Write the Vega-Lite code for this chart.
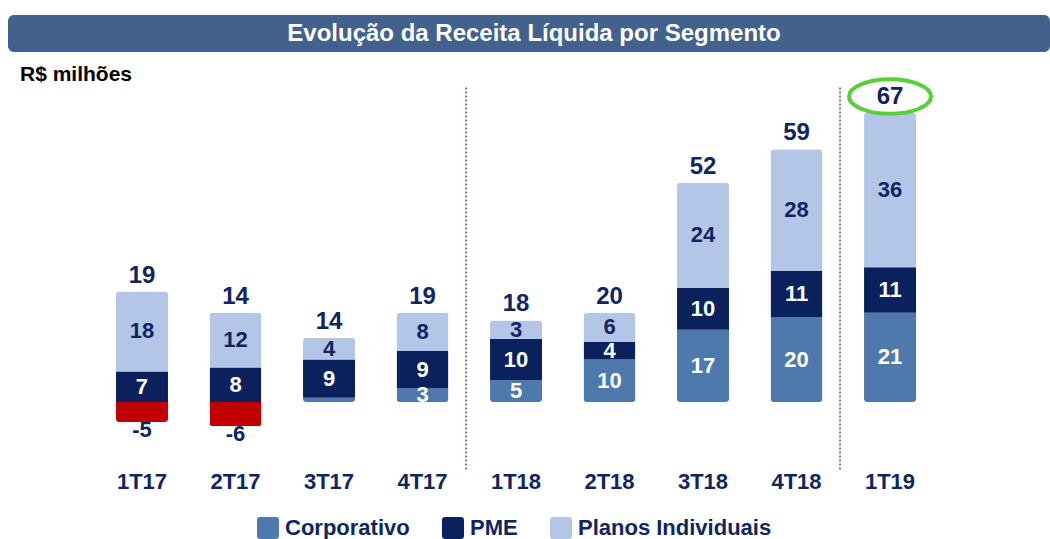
{
  "$schema": "https://vega.github.io/schema/vega-lite/v6.json",
  "padding": {"left": 8, "top": 15, "right": 0, "bottom": 0},
  "background": "white",
  "spacing": 12,
  "columns": 1,
  "align": "none",
  "config": {"font": "Liberation Sans", "view": {"stroke": null}},
  "datasets": {
    "segmentos": [
      {"trimestre": "1T17", "segmento": "Corporativo", "valor": -4.7, "rotulo": "-5", "total": 19},
      {"trimestre": "1T17", "segmento": "PME", "valor": 7.2, "rotulo": "7", "total": 19},
      {"trimestre": "1T17", "segmento": "Planos Individuais", "valor": 18.8, "rotulo": "18", "total": 19},
      {"trimestre": "2T17", "segmento": "Corporativo", "valor": -5.7, "rotulo": "-6", "total": 14},
      {"trimestre": "2T17", "segmento": "PME", "valor": 8.1, "rotulo": "8", "total": 14},
      {"trimestre": "2T17", "segmento": "Planos Individuais", "valor": 12.9, "rotulo": "12", "total": 14},
      {"trimestre": "3T17", "segmento": "Corporativo", "valor": 1.0, "rotulo": "", "total": 14},
      {"trimestre": "3T17", "segmento": "PME", "valor": 9.0, "rotulo": "9", "total": 14},
      {"trimestre": "3T17", "segmento": "Planos Individuais", "valor": 5.1, "rotulo": "4", "total": 14},
      {"trimestre": "4T17", "segmento": "Corporativo", "valor": 3.2, "rotulo": "3", "total": 19},
      {"trimestre": "4T17", "segmento": "PME", "valor": 8.8, "rotulo": "9", "total": 19},
      {"trimestre": "4T17", "segmento": "Planos Individuais", "valor": 9.0, "rotulo": "8", "total": 19},
      {"trimestre": "1T18", "segmento": "Corporativo", "valor": 5.1, "rotulo": "5", "total": 18},
      {"trimestre": "1T18", "segmento": "PME", "valor": 9.8, "rotulo": "10", "total": 18},
      {"trimestre": "1T18", "segmento": "Planos Individuais", "valor": 4.3, "rotulo": "3", "total": 18},
      {"trimestre": "2T18", "segmento": "Corporativo", "valor": 10.0, "rotulo": "10", "total": 20},
      {"trimestre": "2T18", "segmento": "PME", "valor": 4.1, "rotulo": "4", "total": 20},
      {"trimestre": "2T18", "segmento": "Planos Individuais", "valor": 6.9, "rotulo": "6", "total": 20},
      {"trimestre": "3T18", "segmento": "Corporativo", "valor": 17.0, "rotulo": "17", "total": 52},
      {"trimestre": "3T18", "segmento": "PME", "valor": 9.9, "rotulo": "10", "total": 52},
      {"trimestre": "3T18", "segmento": "Planos Individuais", "valor": 24.7, "rotulo": "24", "total": 52},
      {"trimestre": "4T18", "segmento": "Corporativo", "valor": 20.0, "rotulo": "20", "total": 59},
      {"trimestre": "4T18", "segmento": "PME", "valor": 10.8, "rotulo": "11", "total": 59},
      {"trimestre": "4T18", "segmento": "Planos Individuais", "valor": 28.7, "rotulo": "28", "total": 59},
      {"trimestre": "1T19", "segmento": "Corporativo", "valor": 21.0, "rotulo": "21", "total": 67},
      {"trimestre": "1T19", "segmento": "PME", "valor": 10.7, "rotulo": "11", "total": 67},
      {"trimestre": "1T19", "segmento": "Planos Individuais", "valor": 36.4, "rotulo": "36", "total": 67}
    ],
    "separadores": [
      {"trimestre": "1T18"},
      {"trimestre": "1T19"}
    ]
  },
  "concat": [
    {
      "width": 1042,
      "height": 37,
      "data": {"values": [{}]},
      "view": {"fill": "#42618D", "stroke": null, "cornerRadius": 6},
      "mark": {"type": "text", "text": "Evolução da Receita Líquida por Segmento", "color": "white", "fontSize": 24, "fontWeight": "bold", "font": "Liberation Sans", "dx": 5, "baseline": "middle", "align": "center"},
      "encoding": {}
    },
    {
      "width": 962,
      "height": 382.5,
      "data": {"name": "segmentos"},
      "title": {"text": "R$ milhões", "anchor": "start", "frame": "group", "dx": 12, "offset": -31, "baseline": "alphabetic", "fontSize": 21, "fontWeight": "bold", "color": "black", "font": "Liberation Sans"},
      "encoding": {
        "x": {
          "field": "trimestre", "type": "nominal",
          "scale": {"domain": ["1T17", "2T17", "3T17", "4T17", "1T18", "2T18", "3T18", "4T18", "1T19"], "paddingInner": 0.444, "paddingOuter": 0.8663, "align": 0.6667},
          "axis": {"title": null, "domain": false, "ticks": false, "labelPadding": 10, "labelFontSize": 22, "labelFontWeight": "bold", "labelColor": "#0E2562", "labelFont": "Liberation Sans", "labelAngle": 0}
        }
      },
      "layer": [
        {
          "mark": {"type": "rule", "color": "#1F3A6E", "strokeWidth": 1.3, "strokeDash": [2, 2], "xOffset": -24},
          "data": {"name": "separadores"},
          "encoding": {
            "x": {"field": "trimestre", "type": "nominal", "bandPosition": 0},
            "y": {"datum": 74},
            "y2": {"datum": -16}
          }
        },
        {
          "mark": {"type": "bar", "cornerRadius": 3},
          "encoding": {
            "y": {"field": "valor", "type": "quantitative", "stack": "zero", "scale": {"domain": [-14, 76], "nice": false, "zero": false}, "axis": {"title": null, "labels": false, "ticks": false, "domain": false, "grid": false, "minExtent": 0, "maxExtent": 0}},
            "order": {"field": "segmento", "sort": "ascending"},
            "color": {
              "field": "segmento", "type": "nominal",
              "condition": {"test": "datum.valor < 0", "value": "#C00000"},
              "scale": {"domain": ["Corporativo", "PME", "Planos Individuais"], "range": ["#4E79AD", "#0B215D", "#B4C6E7"]},
              "legend": {"orient": "none", "legendX": 249, "legendY": 502, "direction": "horizontal", "title": null, "symbolType": "M -0.7,-1 H 0.7 Q 1,-1 1,-0.7 V 0.7 Q 1,1 0.7,1 H -0.7 Q -1,1 -1,0.7 V -0.7 Q -1,-1 -0.7,-1 Z", "symbolSize": 484, "symbolStrokeWidth": 0, "symbolOpacity": 1, "labelFontSize": 22, "labelFont": "Liberation Sans", "labelFontWeight": "bold", "labelColor": "#0E2562", "labelOffset": 6, "labelLimit": 400, "columnPadding": 32, "padding": 0}
            }
          }
        },
        {
          "mark": {"type": "rule", "color": "#8291B2", "strokeWidth": 2, "xOffset": 40},
          "encoding": {
            "y": {"datum": 0}
          }
        },
        {
          "transform": [{"filter": "datum.valor > 0"}],
          "mark": {"type": "text", "fontSize": 22, "fontWeight": "bold", "baseline": "middle", "font": "Liberation Sans"},
          "encoding": {
            "y": {"field": "valor", "type": "quantitative", "stack": "zero", "bandPosition": 0.5},
            "detail": {"field": "segmento"},
            "order": {"field": "segmento", "sort": "ascending"},
            "text": {"field": "rotulo", "type": "nominal"},
            "color": {"condition": {"test": "datum.segmento == 'Planos Individuais'", "value": "#0E2562"}, "value": "white"}
          }
        },
        {
          "transform": [{"filter": "datum.valor < 0"}],
          "mark": {"type": "text", "fontSize": 22, "fontWeight": "bold", "baseline": "top", "dy": -2, "color": "#0E2562", "font": "Liberation Sans"},
          "encoding": {
            "y": {"field": "valor", "type": "quantitative"},
            "text": {"field": "rotulo", "type": "nominal"}
          }
        },
        {
          "transform": [{"filter": "datum.valor > 0"}],
          "mark": {"type": "text", "fontSize": 24, "fontWeight": "bold", "baseline": "alphabetic", "dy": -9, "color": "#0E2562", "font": "Liberation Sans"},
          "encoding": {
            "y": {"aggregate": "sum", "field": "valor", "type": "quantitative"},
            "text": {"aggregate": "max", "field": "total", "type": "quantitative"}
          }
        },
        {
          "transform": [{"filter": "datum.valor > 0 && datum.trimestre == '1T19'"}],
          "mark": {"type": "point", "shape": "M-1,0A1,0.42 0 1,1 1,0A1,0.42 0 1,1 -1,0Z", "size": 6724, "filled": false, "stroke": "#58CF38", "strokeWidth": 4, "opacity": 1, "yOffset": -16},
          "encoding": {
            "y": {"aggregate": "sum", "field": "valor", "type": "quantitative"}
          }
        }
      ]
    }
  ]
}
